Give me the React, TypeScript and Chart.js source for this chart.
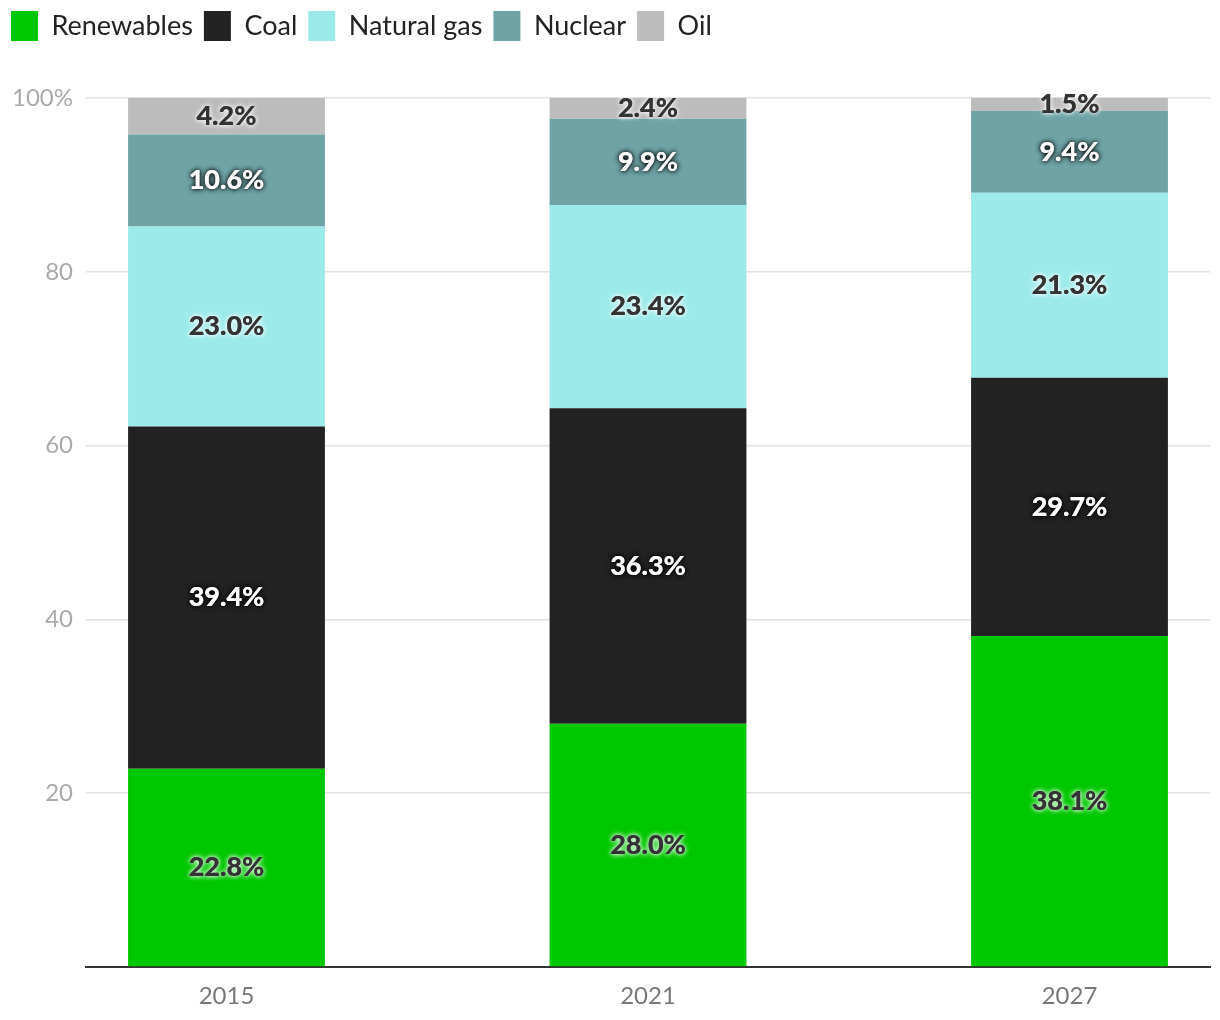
import React, { useEffect, useRef } from "react";
import { Chart, registerables } from "chart.js";

Chart.register(...registerables);

const years = [2015, 2021, 2027];
const seriesNames = ["Renewables", "Coal", "Natural gas", "Nuclear", "Oil"];
const renewables = [22.8, 28.0, 38.1];
const coal = [39.4, 36.3, 29.7];
const naturalGas = [23.0, 23.4, 21.3];
const nuclear = [10.6, 9.9, 9.4];
const oil = [4.2, 2.4, 1.5];
const yTicks = [0, 20, 40, 60, 80, 100];

const seriesValues = [renewables, coal, naturalGas, nuclear, oil];
const seriesColors = ["#00c800", "#222222", "#9deaea", "#6fa3a6", "#bcbcbc"];
const labelDark = [true, false, true, false, true];

const FONT = "Lato, 'Noto Sans', sans-serif";

const legendSpacer = {
  id: "legendSpacer",
  beforeInit(chart: any) {
    const orig = chart.legend.fit;
    chart.legend.fit = function fit() {
      orig.bind(chart.legend)();
      this.height += 47;
    };
  },
};

const barLabels = {
  id: "barLabels",
  afterDatasetsDraw(chart: any) {
    const ctx = chart.ctx;
    chart.data.datasets.forEach((ds: any, di: number) => {
      const meta = chart.getDatasetMeta(di);
      meta.data.forEach((bar: any, i: number) => {
        const { x, y, base } = bar.getProps(["x", "y", "base"], true);
        const cy = (y + base) / 2;
        const text = seriesValues[di][i].toFixed(1) + "%";
        const dark = labelDark[di];
        ctx.save();
        ctx.font = `900 27px ${FONT}`;
        ctx.textAlign = "center";
        ctx.textBaseline = "middle";
        ctx.shadowColor = dark ? "rgba(255,255,255,0.85)" : "rgba(0,0,0,0.85)";
        ctx.shadowBlur = 5;
        ctx.fillStyle = dark ? "#333333" : "#ffffff";
        ctx.fillText(text, x, cy);
        ctx.fillText(text, x, cy);
        ctx.restore();
      });
    });
  },
};

export default function App() {
  const ref = useRef<HTMLCanvasElement>(null);

  useEffect(() => {
    if (!ref.current) return;
    const chart = new Chart(ref.current, {
      type: "bar",
      data: {
        datasets: seriesNames.map((name, di) => ({
          label: name,
          data: years.map((yr, i) => ({ x: yr, y: seriesValues[di][i] })),
          backgroundColor: seriesColors[di],
          borderWidth: 0,
          barPercentage: 0.467,
          categoryPercentage: 1,
        })),
      },
      options: {
        responsive: false,
        animation: false,
        layout: { padding: { left: 0, right: 10, top: 0, bottom: 0 } },
        plugins: {
          legend: {
            position: "top",
            align: "start",
            labels: {
              boxWidth: 27,
              boxHeight: 30,
              padding: 11,
              color: "#222222",
              font: { family: FONT, size: 27 },
            },
          },
          tooltip: { enabled: false },
        },
        scales: {
          x: {
            type: "linear",
            stacked: true,
            offset: false,
            min: 2013,
            max: 2029,
            grid: { display: false, offset: false },
            border: { display: true, color: "#333333", width: 2 },
            afterBuildTicks: (scale: any) => {
              scale.ticks = years.map((v) => ({ value: v }));
            },
            afterFit: (scale: any) => {
              scale.height = 53;
            },
            ticks: {
              color: "#777777",
              font: { family: FONT, size: 24 },
              padding: 7,
              callback: (v: any) => String(v),
            },
          },
          y: {
            stacked: true,
            min: 0,
            max: 100,
            afterBuildTicks: (scale: any) => {
              scale.ticks = yTicks.map((v) => ({ value: v }));
            },
            afterFit: (scale: any) => {
              scale.width = 86;
            },
            grid: { color: "#e2e2e2", lineWidth: 1.5, drawTicks: false },
            border: { display: false },
            ticks: {
              color: "#aaaaaa",
              font: { family: FONT, size: 24 },
              padding: 13,
              callback: (v: any) => (v === 0 ? "" : v === 100 ? "100%" : String(v)),
            },
          },
        },
      },
      plugins: [legendSpacer, barLabels],
    });
    return () => chart.destroy();
  }, []);

  return (
    <div style={{ position: "fixed", left: 0, top: 0, width: 1220, height: 1020, background: "#fff" }}>
      <canvas ref={ref} width={1220} height={1020} />
    </div>
  );
}
